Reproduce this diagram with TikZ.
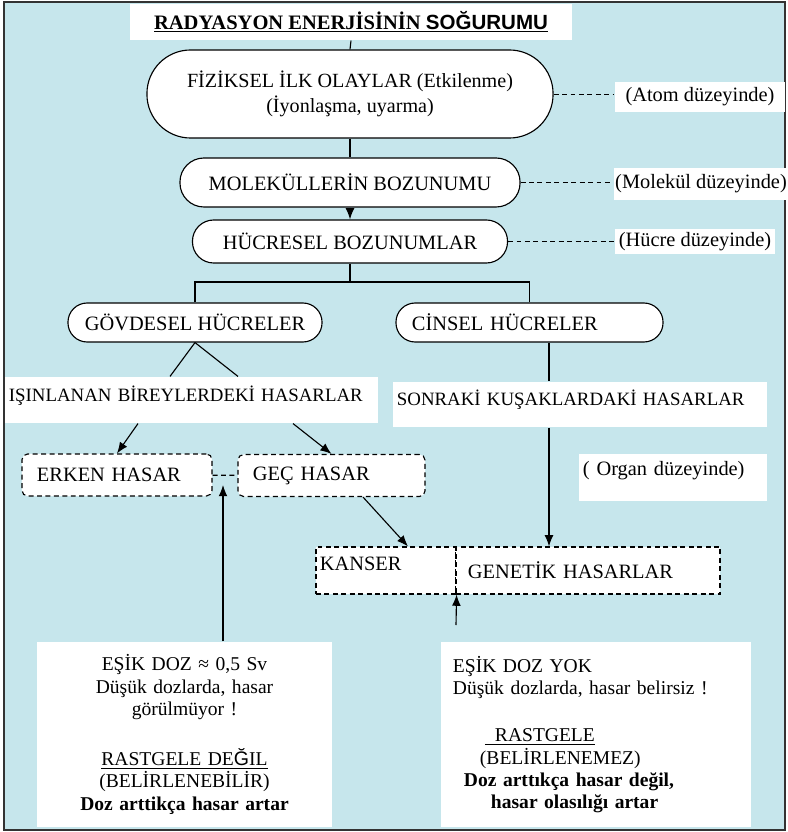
\documentclass[tikz,border=0pt]{standalone}
\usepackage{fontspec}
\setmainfont{Liberation Serif}
\setsansfont{Liberation Sans}
\usepackage{tikz}
\usepackage{xcolor}
\usetikzlibrary{arrows.meta}
\definecolor{bgblue}{RGB}{198,230,236}

\begin{document}
\begin{tikzpicture}[x=0.025cm, y=-0.025cm, line width=0.8pt,
  font=\fontsize{14.5}{17}\selectfont,
  oval/.style={draw, fill=white, rounded corners=#1, inner sep=1pt},
  wbox/.style={fill=white, inner sep=1pt},
  lvl/.style={fill=white, inner sep=1pt, minimum height=0.75cm},
  dsh/.style={dash pattern=on 3.5pt off 2.5pt},
  hasar/.style={draw, fill=white, dsh, rounded corners=4pt, minimum height=1.05cm, inner xsep=0.375cm, align=left},
  kutu/.style={draw, fill=white, dsh, minimum height=1.175cm, align=left},
  alt/.style={wbox, minimum height=4.625cm, font=\fontsize{13.9}{15.8}\selectfont},
  arr/.style={-{Latex[length=2.8mm,width=2.2mm]}}]

\useasboundingbox[fill=white] (0,0) rectangle (787,832);
\draw[draw=gray!40!black, line width=1.1pt, fill=bgblue] (4,2) rectangle (785,830);

\node (baslik) [wbox, minimum width=11.05cm, minimum height=0.9cm, font=\fontsize{14.6}{17}\selectfont\bfseries] at (351,22) {\underline{RADYASYON ENERJİSİNİN \textsf{SOĞURUMU}}};

\node (fizik) [oval=1.09cm, minimum width=10.15cm, minimum height=2.2cm, align=center, font=\fontsize{14.3}{17.8}\selectfont] at (350,94) {FİZİKSEL İLK OLAYLAR (Etkilenme)\\(İyonlaşma, uyarma)};
\node (molekul) [oval=0.6cm, minimum width=8.5cm, minimum height=1.225cm] at (350,182.5) {MOLEKÜLLERİN BOZUNUMU};
\node (hucre) [oval=0.53cm, minimum width=7.875cm, minimum height=1.075cm] at (350,241.5) {HÜCRESEL BOZUNUMLAR};

\node (atom) [lvl, minimum width=4.25cm] at (700,97) {(Atom düzeyinde)};
\node (molduz) [lvl, minimum width=4.3cm, minimum height=0.8cm] at (701,184) {(Molekül düzeyinde)};
\node (hucduz) [lvl, minimum width=4cm, minimum height=0.6cm] at (695,241.5) {(Hücre düzeyinde)};

\node (govde) [oval=0.48cm, minimum width=6.35cm, minimum height=0.975cm] at (195,322.5) {GÖVDESEL HÜCRELER};
\node (cinsel) [oval=0.48cm, minimum width=6.675cm, minimum height=0.975cm, inner xsep=0.4cm, text width=5.875cm, align=left] at (529.5,322.5) {CİNSEL HÜCRELER};

\node (isin) [wbox, minimum width=9.325cm, minimum height=1.15cm, inner xsep=0.1cm, text width=9.125cm, align=left, text depth=9pt, font=\fontsize{13.4}{16}\selectfont] at (191.5,400) {IŞINLANAN BİREYLERDEKİ HASARLAR};
\node (sonraki) [wbox, minimum width=9.35cm, minimum height=1.125cm, inner xsep=0.1cm, text width=9.15cm, align=left, text depth=9pt, font=\fontsize{13.4}{16}\selectfont] at (580,404.5) {SONRAKİ KUŞAKLARDAKİ HASARLAR};
\node (organ) [wbox, minimum width=4.7cm, minimum height=1.175cm, inner xsep=0.1cm, text width=4.5cm, align=left, text depth=13.5pt] at (673,477.5) {( Organ düzeyinde)};

\node (erken) [hasar, minimum width=4.75cm, text width=4cm] at (117,475) {ERKEN HASAR};
\node (gec) [hasar, minimum width=4.675cm, text width=3.925cm] at (331.5,475.5) {GEÇ HASAR};

\node (kanser) [kutu, minimum width=3.5cm, inner xsep=0.1cm, text width=3.3cm, text depth=10pt] at (386,570.5) {KANSER};
\node (genetik) [kutu, minimum width=6.6cm, inner xsep=0.3cm, text width=6cm] at (588,570.5) {GENETİK HASARLAR};

\node (esik1) [alt, minimum width=7.375cm, text width=7.1cm, align=center] at (184.5,734.5) {EŞİK DOZ ≈ 0,5 Sv\\Düşük dozlarda, hasar\\görülmüyor !\\[20pt]\underline{RASTGELE DE\textsf{Ğ}IL}\\(BELİRLENEBİLİR)\\\textbf{Doz arttikça hasar artar}};
\node (esik2) [alt, minimum width=7.75cm, inner xsep=0.3cm, text width=7.15cm, align=left] at (596,734.5) {EŞİK DOZ YOK\\Düşük dozlarda, hasar belirsiz !\\[18pt]\hspace*{0.8cm}\underline{\hspace{0.25cm}RASTGELE}\\\hspace*{0.675cm}(BELİRLENEMEZ)\\\hspace*{0.275cm}\textbf{Doz arttıkça hasar değil,}\\\hspace*{0.95cm}\textbf{hasar olasılığı artar}};

\coordinate (kol) at (350,282);
\coordinate (bag) at (223,485);
\coordinate (yokuc) at (456,625);

\draw (baslik.south) -- (fizik.north);
\draw (fizik) -- (molekul);
\draw[arr] (molekul) -- (hucre);
\draw (hucre) -- (kol);
\draw (govde.north) |- (kol) -| (cinsel.north);

\draw[dsh, line width=0.6pt] (fizik.east) -- (fizik.east -| atom.west);
\draw[dsh, line width=0.6pt] (molekul.east) -- (molekul.east -| molduz.west);
\draw[dsh, line width=0.6pt] (hucre.east) -- (hucduz.west);

\draw (govde.south) -- (isin.north -| 170,0);
\draw (govde.south) -- (isin.north -| 238,0);
\draw[arr] (isin.south -| 138,0) -- (erken.north);
\draw[arr] (isin.south -| 293,0) -- (gec.north);
\draw[dsh] (erken) -- (gec);
\draw[arr] (esik1.north -| bag) -- (bag);

\draw[arr] (gec.south -| 363,0) -- (kanser.north -| 408,0);
\draw (cinsel.south -| 549,0) -- (sonraki.north -| 549,0);
\draw[arr] (sonraki.south -| 549,0) -- (genetik.north -| 549,0);
\draw[arr] (yokuc) -- (kanser.south east);

\end{tikzpicture}
\end{document}
